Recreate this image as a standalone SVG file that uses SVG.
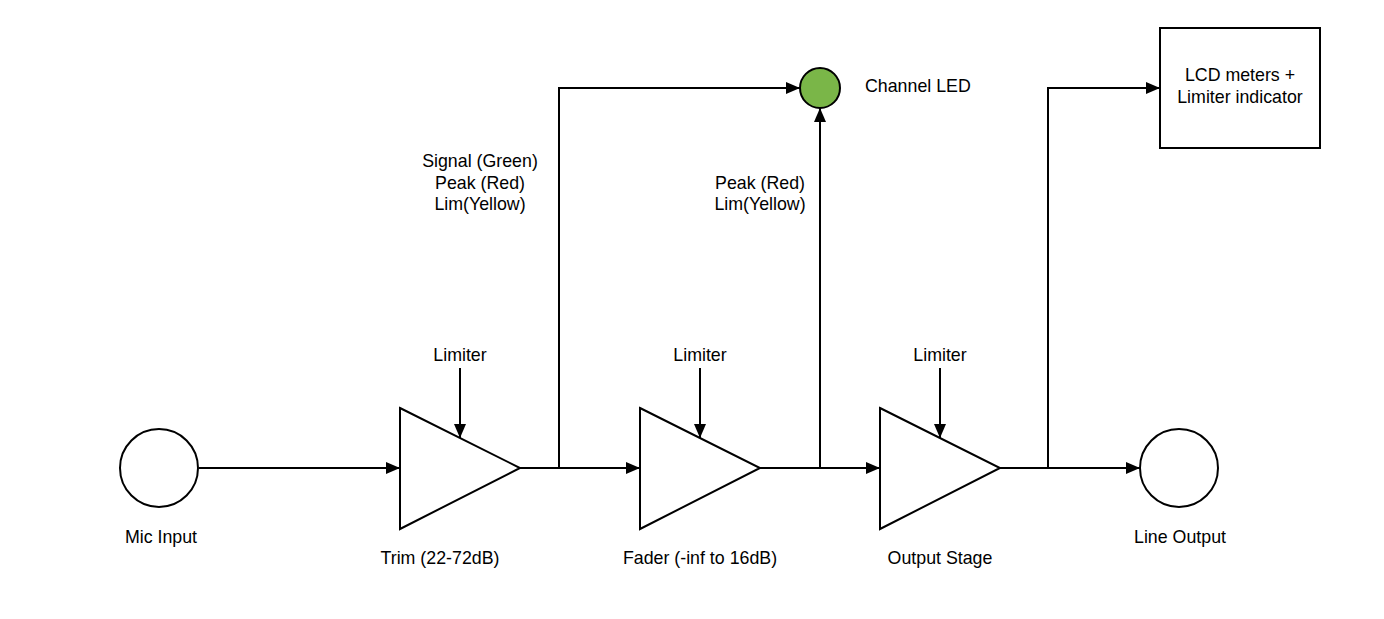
<svg xmlns="http://www.w3.org/2000/svg" width="1384" height="619" viewBox="0 0 1384 619">
<style>
.s{fill:#fff;stroke:#000;stroke-width:2}
.c{fill:none;stroke:#000;stroke-width:2}
text{font-family:"Liberation Sans",Arial,sans-serif;font-size:17.8px;fill:#000}
.m{text-anchor:middle}
</style>
<defs>
<marker id="a" markerWidth="14" markerHeight="12" refX="14" refY="6" orient="auto" markerUnits="userSpaceOnUse">
<path d="M0,0 L14,6 L0,12 Z" fill="#000"/>
</marker>
</defs>
<rect width="1384" height="619" fill="#fff"/>
<g id="connectors">
<path class="c" d="M199,468 H400" marker-end="url(#a)"/>
<path class="c" d="M520,468 H640" marker-end="url(#a)"/>
<path class="c" d="M760,468 H880" marker-end="url(#a)"/>
<path class="c" d="M1000,468 H1140" marker-end="url(#a)"/>
<path class="c" d="M559,468 V88 H800" marker-end="url(#a)"/>
<path class="c" d="M820,468 V108" marker-end="url(#a)"/>
<path class="c" d="M1048,468 V88 H1160" marker-end="url(#a)"/>
<path class="c" d="M460,368 V438" marker-end="url(#a)"/>
<path class="c" d="M700,368 V438" marker-end="url(#a)"/>
<path class="c" d="M940,368 V438" marker-end="url(#a)"/>
</g>
<g id="mic-input">
<circle class="s" cx="159" cy="468" r="39"/>
<text class="m" x="161" y="543">Mic Input</text>
</g>
<g id="trim">
<path class="s" d="M400,408 L520,468 L400,529 Z"/>
<text class="m" x="440" y="564">Trim (22-72dB)</text>
<text class="m" x="460" y="361">Limiter</text>
</g>
<g id="fader">
<path class="s" d="M640,408 L760,468 L640,529 Z"/>
<text class="m" x="700" y="564">Fader (-inf to 16dB)</text>
<text class="m" x="700" y="361">Limiter</text>
</g>
<g id="output-stage">
<path class="s" d="M880,408 L1000,468 L880,529 Z"/>
<text class="m" x="940" y="564">Output Stage</text>
<text class="m" x="940" y="361">Limiter</text>
</g>
<g id="line-output">
<circle class="s" cx="1179" cy="468" r="39"/>
<text class="m" x="1180" y="543">Line Output</text>
</g>
<g id="channel-led">
<circle cx="820" cy="88" r="20" fill="#7ab648" stroke="#000" stroke-width="2"/>
<text x="865" y="92">Channel LED</text>
</g>
<g id="lcd">
<rect class="s" x="1160" y="28" width="160" height="120"/>
<text class="m" x="1240" y="81">LCD meters +</text>
<text class="m" x="1240" y="103">Limiter indicator</text>
</g>
<g id="labels">
<text class="m" x="480" y="167">Signal (Green)</text>
<text class="m" x="480" y="189">Peak (Red)</text>
<text class="m" x="480" y="210">Lim(Yellow)</text>
<text class="m" x="760" y="189">Peak (Red)</text>
<text class="m" x="760" y="210">Lim(Yellow)</text>
</g>
</svg>
